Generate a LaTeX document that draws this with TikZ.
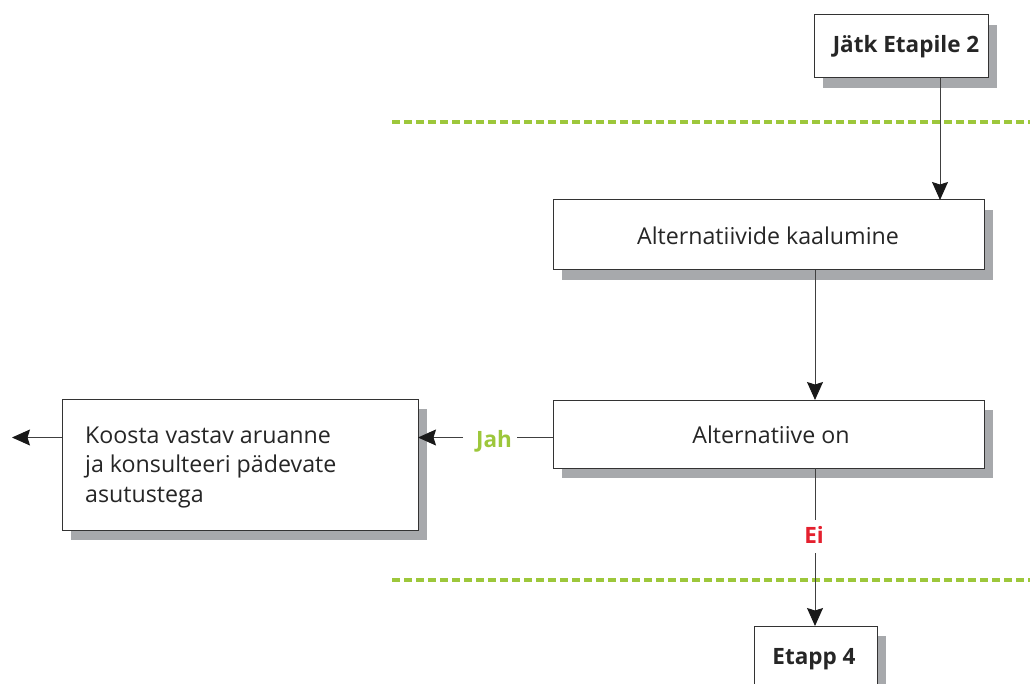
\documentclass[tikz,border=0pt]{standalone}
\usepackage{fontspec}
\setmainfont{Open Sans}
\usetikzlibrary{arrows.meta,shadows}
\definecolor{shade}{HTML}{A7A9AC}
\definecolor{lgreen}{HTML}{9DC73B}
\definecolor{ered}{HTML}{E4202E}
\begin{document}
\begin{tikzpicture}[x=1pt,y=-1pt,
  boxstyle/.style={draw=black!80,line width=1pt,fill=white,rectangle,inner sep=0pt,
    drop shadow={shadow xshift=9pt,shadow yshift=-10pt,fill=shade,opacity=1}},
  txt/.style={inner sep=0pt,anchor=base,font=\fontsize{23.2}{27}\selectfont,text=black!85},
  btxt/.style={txt,font=\fontsize{22.5}{27}\selectfont\bfseries},
  line/.style={draw=black!75,line width=1pt},
  conn/.style={line,-{Stealth[length=18pt,width=16pt,inset=2.5pt,color=black!90]}},
  sep/.style={lgreen,line width=3.5pt,dash pattern=on 8pt off 4pt}]
\useasboundingbox (0,0) rectangle (1030,684);
\draw[sep] (392,122) -- (1030,122);
\draw[sep] (392,580) -- (1030,580);
% boxes
\node[boxstyle,minimum width=174pt,minimum height=63pt] (j) at (901,46.5) {};
\node[boxstyle,minimum width=431pt,minimum height=70pt] (k) at (768.5,235) {};
\node[boxstyle,minimum width=431pt,minimum height=68pt] (a) at (768.5,434) {};
\node[boxstyle,minimum width=356pt,minimum height=131pt] (p) at (240,464.5) {};
\node[boxstyle,minimum width=123pt,minimum height=58pt] (e) at (815.5,655) {};
% texts
\node[btxt] (jt) at (906,53) {Jätk Etapile 2};
\node[txt] (kt) at (768,245) {Alternatiivide kaalumine};
\node[txt] (at) at (771,443) {Alternatiive on};
\node[txt,anchor=base west,align=left,font=\fontsize{23.2}{29.5}\selectfont] (pt) at (85,502) {Koosta vastav aruanne\\ja konsulteeri pädevate\\asutustega};
\node[btxt] (et) at (814,664) {Etapp 4};
\node[btxt,text=lgreen] (jah) at (494,447) {Jah};
\node[btxt,text=ered] (ei) at (814,543) {Ei};
% connector points
\coordinate (j1) at (940,78);
\coordinate (k0) at (940,200);
\coordinate (k1) at (815,270);
\coordinate (a0) at (815,400);
\coordinate (aw) at (553,437.5);
\coordinate (jr) at (517,437.5);
\coordinate (jl) at (463,437.5);
\coordinate (pe) at (418,437.5);
\coordinate (pw) at (62,437.5);
\coordinate (out) at (12,437.5);
\coordinate (a1) at (815,468);
\coordinate (eu) at (815,520);
\coordinate (ed) at (815,553);
\coordinate (e0) at (815,626);
\draw[conn] (j1) -- (k0);
\draw[conn] (k1) -- (a0);
\draw[line] (aw) -- (jr);
\draw[conn] (jl) -- (pe);
\draw[conn] (pw) -- (out);
\draw[line] (a1) -- (eu);
\draw[conn] (ed) -- (e0);
\end{tikzpicture}
\end{document}
